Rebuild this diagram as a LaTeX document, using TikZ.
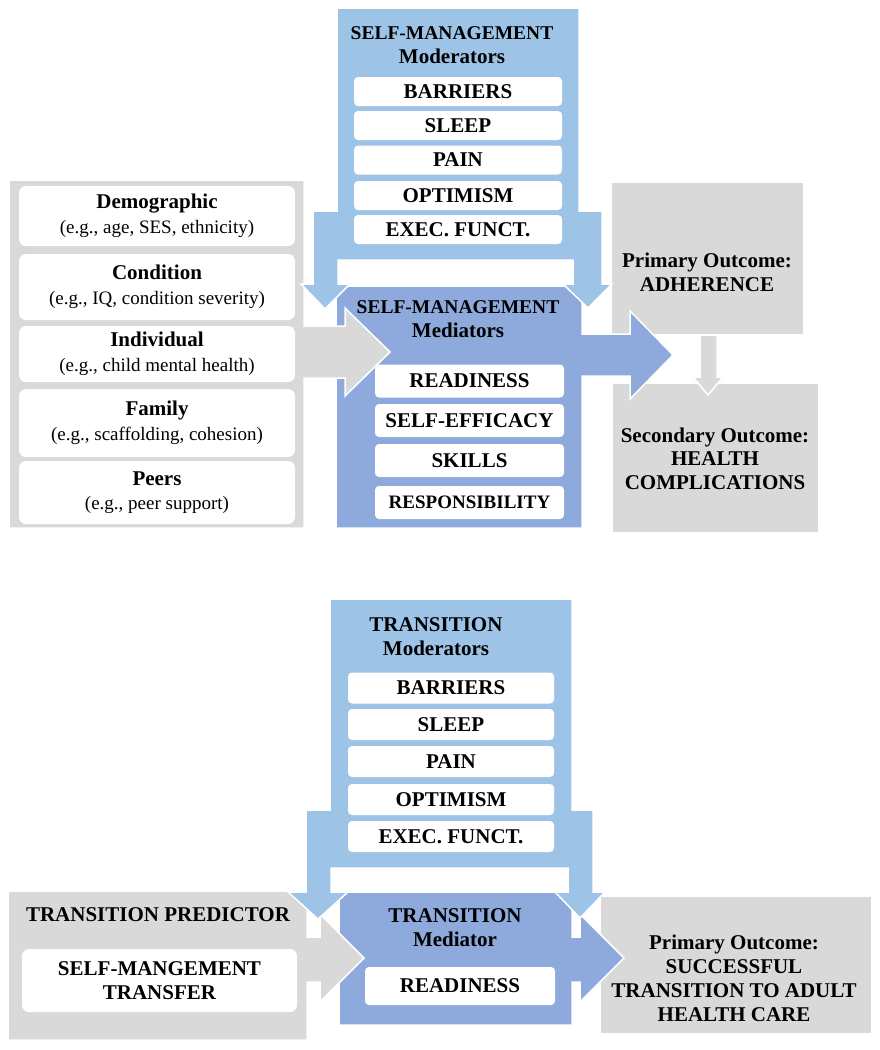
\documentclass[tikz,border=0pt]{standalone}
\usepackage{fontspec}
\setmainfont{Liberation Serif}
\definecolor{modblue}{HTML}{9DC3E6}
\definecolor{medblue}{HTML}{8EA9DB}
\definecolor{panelgrey}{HTML}{D9D9D9}
\tikzset{
  block/.style={draw=white,line width=1.5pt,line join=miter},
  itembox/.style={fill=white,rounded corners=4pt,inner sep=0pt,font=\fontsize{21}{24}\selectfont\bfseries},
  factorbox/.style={fill=white,rounded corners=7pt,inner sep=0pt,minimum width=276pt,align=center,font=\fontsize{19}{24.5}\selectfont},
  heading/.style={align=center,font=\fontsize{21}{24}\selectfont\bfseries},
}
\newcommand{\factortext}[2]{{\fontsize{21}{24.5}\selectfont\bfseries #1}\\#2}

\begin{document}
\begin{tikzpicture}[x=1pt,y=-1pt,
  smmod/.style={itembox,minimum width=208pt,minimum height=29pt},
  smmed/.style={itembox,minimum width=189pt,minimum height=33pt},
  trmod/.style={itembox,minimum width=206pt,minimum height=31pt}]
\useasboundingbox (0,0) rectangle (879,1050);

% top panel: outcomes
\path[block,fill=panelgrey] (611,182) rectangle (804,335);
\path[block,fill=panelgrey] (612,383) rectangle (819,533);
\path[block,fill=panelgrey] (700,335) -- (717,335) -- (717,377) -- (723,377) -- (708,395) -- (693,377) -- (700,377) -- cycle;
% mediators with arrow to outcome
\path[block,fill=medblue] (336,286) -- (582,286) -- (582,334) -- (630,334) -- (630,311) -- (673,355) -- (630,399) -- (630,376) -- (582,376) -- (582,528) -- (336,528) -- cycle;
% factors with arrow to mediators
\path[block,fill=panelgrey] (9,180) -- (304,180) -- (304,326) -- (345,326) -- (345,308) -- (390,352) -- (345,396) -- (345,378) -- (304,378) -- (304,528) -- (9,528) -- cycle;
% moderators with two arrows down
\path[block,fill=modblue] (337,8) -- (579,8) -- (579,211) -- (602,211) -- (602,284) -- (612,284) -- (588,308) -- (563,284) -- (573,284) -- (573,260) -- (338,260) -- (338,284) -- (350,284) -- (325,309) -- (301,284) -- (313,284) -- (313,211) -- (337,211) -- cycle;

\node[heading] (smModTitle) at (452,45) {{\fontsize{19.5}{24}\selectfont SELF-MANAGEMENT}\\Moderators};
\node[smmod] (smModBarriers) at (458,91.5) {BARRIERS};
\node[smmod] (smModSleep) at (458,125.5) {SLEEP};
\node[smmod] (smModPain) at (458,160) {PAIN};
\node[smmod] (smModOptimism) at (458,195.5) {OPTIMISM};
\node[smmod] (smModExec) at (458,229.5) {EXEC. FUNCT.};

\node[heading] (smMedTitle) at (458,319.5) {{\fontsize{19.5}{24}\selectfont SELF-MANAGEMENT}\\Mediators};
\node[smmed] (smMedReadiness) at (469.5,381) {READINESS};
\node[smmed] (smMedEfficacy) at (469.5,420.5) {SELF-EFFICACY};
\node[smmed] (smMedSkills) at (469.5,460.5) {SKILLS};
\node[smmed,font=\fontsize{19}{24}\selectfont\bfseries] (smMedResp) at (469.5,502.5) {RESPONSIBILITY};

\node[factorbox,minimum height=60pt] (demographic) at (157,216) {\factortext{Demographic}{(e.g., age, SES, ethnicity)}};
\node[factorbox,minimum height=66pt] (condition) at (157,287) {\factortext{Condition}{(e.g., IQ, condition severity)}};
\node[factorbox,minimum height=56pt] (individual) at (157,354) {\factortext{Individual}{(e.g., child mental health)}};
\node[factorbox,minimum height=68pt] (family) at (157,423) {\factortext{Family}{(e.g., scaffolding, cohesion)}};
\node[factorbox,minimum height=63pt] (peers) at (157,492.5) {\factortext{Peers}{(e.g., peer support)}};

\node[heading] (primaryOut) at (707,272) {Primary Outcome:\\ADHERENCE};
\node[heading,font=\fontsize{21}{23.5}\selectfont\bfseries] (secondaryOut) at (715,458.5) {Secondary Outcome:\\HEALTH\\COMPLICATIONS};

% bottom panel
\path[block,fill=panelgrey] (600,896) rectangle (872,1034);
\path[block,fill=medblue] (339,892) -- (572,892) -- (572,937) -- (580,937) -- (580,914) -- (624,958) -- (580,1002) -- (580,982) -- (572,982) -- (572,1025) -- (339,1025) -- cycle;
\path[block,fill=panelgrey] (8,891) -- (307,891) -- (307,937) -- (320,937) -- (320,914) -- (364,958) -- (320,1002) -- (320,982) -- (307,982) -- (307,1040) -- (8,1040) -- cycle;
\path[block,fill=modblue] (330,599) -- (572,599) -- (572,810) -- (593,810) -- (593,892) -- (605,892) -- (580,918) -- (555,892) -- (568,892) -- (568,868) -- (331,868) -- (331,892) -- (348,892) -- (318,919) -- (288,892) -- (306,892) -- (306,810) -- (330,810) -- cycle;

\node[heading] (trModTitle) at (436,636.5) {TRANSITION\\Moderators};
\node[trmod] (trModBarriers) at (451,688) {BARRIERS};
\node[trmod] (trModSleep) at (451,724.5) {SLEEP};
\node[trmod] (trModPain) at (451,761.5) {PAIN};
\node[trmod] (trModOptimism) at (451,799.5) {OPTIMISM};
\node[trmod] (trModExec) at (451,836.5) {EXEC. FUNCT.};

\node[heading] (trPredTitle) at (158,915) {TRANSITION PREDICTOR};
\node[itembox,minimum width=275pt,minimum height=63pt,align=center,rounded corners=7pt] (smTransfer) at (159.5,980.5) {SELF-MANGEMENT\\TRANSFER};
\node[heading] (trMedTitle) at (455,927.5) {TRANSITION\\Mediator};
\node[itembox,minimum width=190pt,minimum height=38pt] (trReadiness) at (460,986) {READINESS};
\node[heading] (trOutcome) at (734,978) {Primary Outcome:\\SUCCESSFUL\\TRANSITION TO ADULT\\HEALTH CARE};
\end{tikzpicture}
\end{document}
